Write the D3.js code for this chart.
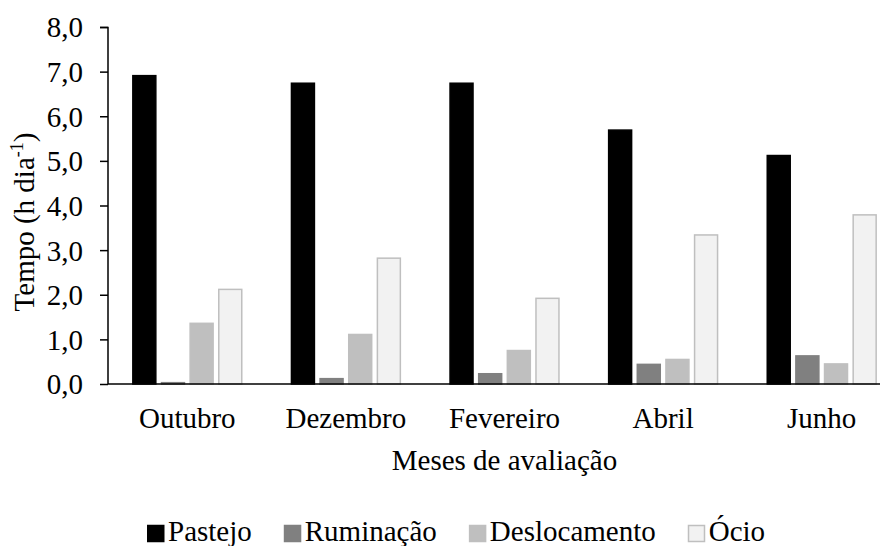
<!DOCTYPE html>
<html>
<head>
<meta charset="utf-8">
<script src="https://cdn.jsdelivr.net/npm/d3@7/dist/d3.min.js"></script>
<style>
  body { margin: 0; background: #fff; }
  svg { display: block; }
</style>
</head>
<body>
<svg id="chart" width="890" height="546"></svg>
<script>
const months = ["Outubro", "Dezembro", "Fevereiro", "Abril", "Junho"];
const seriesNames = ["Pastejo", "Ruminação", "Deslocamento", "Ócio"];
const pastejo = [6.91, 6.74, 6.74, 5.69, 5.12];
const ruminacao = [0.03, 0.12, 0.23, 0.44, 0.63];
const deslocamento = [1.36, 1.11, 0.75, 0.55, 0.45];
const ocio = [2.12, 2.82, 1.92, 3.34, 3.79];
const yTicks = [0, 1, 2, 3, 4, 5, 6, 7, 8];
const seriesValues = [pastejo, ruminacao, deslocamento, ocio];
const fills = ["#000000", "#808080", "#bfbfbf", "#f2f2f2"];
const strokes = ["#000000", "#808080", "#bfbfbf", "#bfbfbf"];

const FONT = '"Liberation Serif", Tinos, "Times New Roman", Times, serif';
const svg = d3.select("#chart").style("font-family", FONT);
const FS = 29;

const y = d3.scaleLinear().domain([0, 8]).range([384, 27]);
const x0 = d3.scaleBand().domain(months).range([108, 901]).paddingInner(0.307).paddingOuter(0.1535);
const x1 = d3.scaleBand().domain(seriesNames).range([0, x0.bandwidth()]).paddingInner(0.163).paddingOuter(0);

// bars
const groups = svg.append("g").selectAll("g").data(months).join("g")
  .attr("transform", d => `translate(${x0(d)},0)`);
groups.selectAll("rect")
  .data((m, i) => seriesNames.map((s, k) => ({ s, k, v: seriesValues[k][i] })))
  .join("rect")
  .attr("x", d => x1(d.s) + 0.5)
  .attr("width", x1.bandwidth() - 1)
  .attr("y", d => y(d.v))
  .attr("height", d => y(0) - y(d.v))
  .attr("fill", d => fills[d.k])
  .attr("stroke", d => strokes[d.k])
  .attr("stroke-width", 1.5);

// y axis
const yAxis = d3.axisLeft(y).tickValues(yTicks).tickSize(8).tickPadding(17)
  .tickFormat(d => d3.format(".1f")(d).replace(".", ","));
const gy = svg.append("g").attr("transform", "translate(108,0)").call(yAxis)
  .attr("font-family", FONT).attr("font-size", FS);
gy.selectAll("path, line").attr("stroke", "#000").attr("stroke-width", 1.5);
gy.select(".domain").attr("d", "M-8,27.5H0V384");
gy.selectAll("text").attr("fill", "#000").attr("dy", "0.34em");

// x axis line
svg.append("line").attr("x1", 108).attr("x2", 880).attr("y1", y(0)).attr("y2", y(0))
  .attr("stroke", "#000").attr("stroke-width", 1.5);

// x labels
svg.append("g").selectAll("text").data(months).join("text")
  .attr("x", d => x0(d) + x0.bandwidth() / 2)
  .attr("y", 428)
  .attr("text-anchor", "middle")
  .attr("font-size", FS)
  .text(d => d);

// x title
svg.append("text").attr("x", (x0.range()[0] + x0.range()[1]) / 2).attr("y", 470).attr("text-anchor", "middle")
  .attr("font-size", FS).text("Meses de avaliação");

// y title
const yt = svg.append("text").attr("transform", "translate(34,222) rotate(-90)")
  .attr("text-anchor", "middle").attr("font-size", FS);
yt.append("tspan").text("Tempo (h dia");
yt.append("tspan").attr("font-size", FS * 0.62).attr("dy", -11).text("-1");
yt.append("tspan").attr("dy", 11).text(")");

// legend
const lg = svg.append("g").attr("transform", "translate(147,541)");
let cx = 0;
seriesNames.forEach((s, k) => {
  const item = lg.append("g").attr("transform", `translate(${cx},0)`);
  item.append("rect").attr("x", 0.75).attr("y", -15.5).attr("width", 16).attr("height", 16)
    .attr("fill", fills[k]).attr("stroke", strokes[k]).attr("stroke-width", 1.5);
  const t = item.append("text").attr("x", 21).attr("y", 0).attr("font-size", FS).text(s);
  cx += 21 + t.node().getComputedTextLength() + 32;
});
</script>
</body>
</html>
